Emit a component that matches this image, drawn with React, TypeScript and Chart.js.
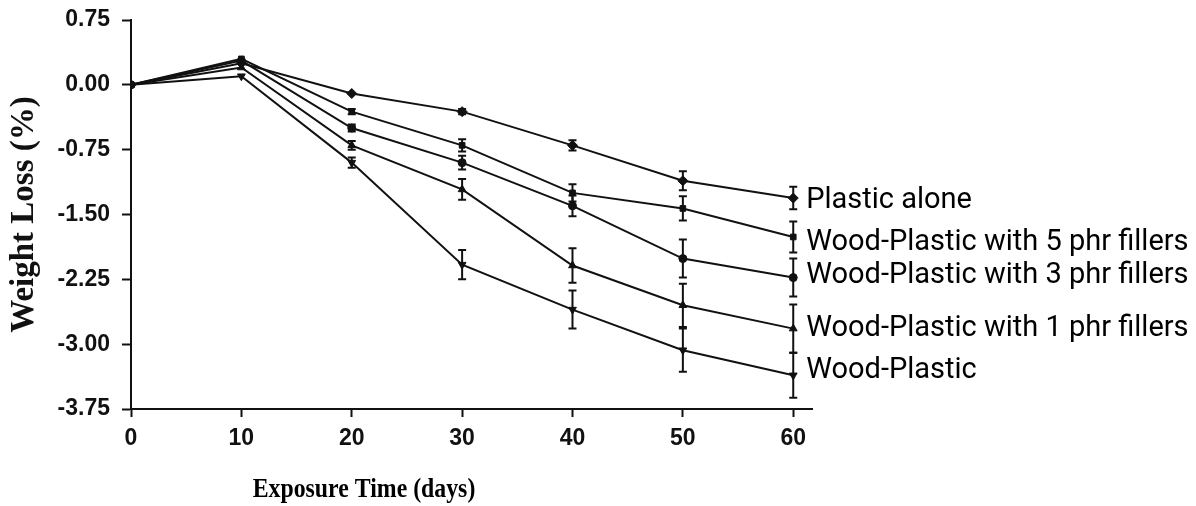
import React, { useEffect, useRef } from "react";
import { Chart, registerables } from "chart.js";

Chart.register(...registerables);

const days = [0, 10, 20, 30, 40, 50, 60];
const seriesNames = [
  "Plastic alone",
  "Wood-Plastic with 5 phr fillers",
  "Wood-Plastic with 3 phr fillers",
  "Wood-Plastic with 1 phr fillers",
  "Wood-Plastic",
];
const plasticAlone = [0, 0.25, -0.1, -0.31, -0.7, -1.11, -1.31];
const wp5 = [0, 0.3, -0.31, -0.7, -1.25, -1.43, -1.76];
const wp3 = [0, 0.28, -0.5, -0.9, -1.4, -2.01, -2.23];
const wp1 = [0, 0.2, -0.7, -1.21, -2.09, -2.55, -2.82];
const wp = [0, 0.1, -0.9, -2.08, -2.6, -3.07, -3.36];

const errPlastic = [0, 0.02, 0.02, 0.03, 0.06, 0.11, 0.13];
const errWp5 = [0, 0.02, 0.03, 0.07, 0.1, 0.14, 0.18];
const errWp3 = [0, 0.02, 0.04, 0.08, 0.12, 0.22, 0.22];
const errWp1 = [0, 0.02, 0.05, 0.12, 0.2, 0.25, 0.28];
const errWp = [0, 0.02, 0.06, 0.17, 0.22, 0.25, 0.26];

const yTicks = [0.75, 0, -0.75, -1.5, -2.25, -3.0, -3.75];
const xTicks = [0, 10, 20, 30, 40, 50, 60];

const values = [plasticAlone, wp5, wp3, wp1, wp];
const errors = [errPlastic, errWp5, errWp3, errWp1, errWp];
const pointStyles = ["rectRot", "rect", "circle", "triangle", "triangle"];
const pointRotations = [0, 0, 0, 0, 180];
const pointRadii = [5, 4, 4, 4.5, 4.5];
const labelNudge = [3, 6, -2, 0, -5];

const errorBarPlugin = {
  id: "errorBars",
  afterDatasetsDraw(chart: any) {
    const ctx = chart.ctx;
    const xs = chart.scales.x;
    const ys = chart.scales.y;
    ctx.save();
    ctx.strokeStyle = "#111";
    ctx.lineWidth = 2;
    errors.forEach((errs, si) => {
      errs.forEach((e, i) => {
        if (!e || e < 0.025) return;
        const x = xs.getPixelForValue(days[i]);
        const yTop = ys.getPixelForValue(values[si][i] + e);
        const yBot = ys.getPixelForValue(values[si][i] - e);
        ctx.beginPath();
        ctx.moveTo(x, yTop);
        ctx.lineTo(x, yBot);
        ctx.moveTo(x - 4, yTop);
        ctx.lineTo(x + 4, yTop);
        ctx.moveTo(x - 4, yBot);
        ctx.lineTo(x + 4, yBot);
        ctx.stroke();
      });
    });
    ctx.restore();
  },
};

const labelsPlugin = {
  id: "endLabels",
  afterDraw(chart: any) {
    const ctx = chart.ctx;
    const xs = chart.scales.x;
    const ys = chart.scales.y;
    ctx.save();
    ctx.fillStyle = "#000";
    ctx.font = "29px Roboto";
    ctx.textAlign = "left";
    ctx.textBaseline = "middle";
    seriesNames.forEach((name, si) => {
      const last = values[si].length - 1;
      const x = xs.getPixelForValue(days[last]) + 13;
      const y = ys.getPixelForValue(values[si][last]) + labelNudge[si];
      ctx.fillText(name, x, y);
    });
    // x-axis title (slightly condensed bold serif)
    ctx.font = "bold 28px 'Liberation Serif'";
    ctx.textAlign = "center";
    ctx.textBaseline = "alphabetic";
    ctx.translate(356, 489);
    ctx.scale(0.85, 1);
    ctx.fillText("Exposure Time (days)", 0, 0);
    ctx.restore();
  },
};

export default function App() {
  const canvasRef = useRef<HTMLCanvasElement | null>(null);

  useEffect(() => {
    if (!canvasRef.current) return;
    const chart = new Chart(canvasRef.current, {
      type: "line",
      data: {
        datasets: seriesNames.map((name, si) => ({
          label: name,
          data: days.map((d, i) => ({ x: d, y: values[si][i] })),
          borderColor: "#111",
          backgroundColor: "#111",
          borderWidth: 2,
          pointStyle: pointStyles[si] as any,
          pointRotation: pointRotations[si],
          pointRadius: pointRadii[si],
          pointBorderWidth: 1,
          tension: 0,
        })),
      },
      options: {
        animation: false,
        responsive: true,
        maintainAspectRatio: false,
        layout: { padding: { left: 0, right: 376, top: 12, bottom: 0 } },
        plugins: {
          legend: { display: false },
          tooltip: { enabled: false },
        },
        scales: {
          x: {
            type: "linear",
            min: 0,
            max: 61.7,
            afterBuildTicks: (scale: any) => {
              scale.ticks = xTicks.map((v) => ({ value: v }));
            },
            afterFit: (scale: any) => {
              scale.height = 97;
            },
            grid: {
              display: true,
              drawOnChartArea: false,
              drawTicks: true,
              tickLength: 8,
              tickWidth: 2,
              tickColor: "#111",
            },
            border: { display: true, color: "#111", width: 2 },
            ticks: {
              color: "#111",
              font: { family: "'Liberation Sans'", weight: "bold", size: 23 },
              padding: 8,
              maxRotation: 0,
            },
          },
          y: {
            type: "linear",
            min: -3.75,
            max: 0.75,
            afterBuildTicks: (scale: any) => {
              scale.ticks = yTicks.map((v) => ({ value: v }));
            },
            afterFit: (scale: any) => {
              scale.width = 123;
              scale.paddingTop = 0;
              scale.paddingBottom = 0;
            },
            grid: {
              display: true,
              drawOnChartArea: false,
              drawTicks: true,
              tickLength: 9,
              tickWidth: 2,
              tickColor: "#111",
            },
            border: { display: true, color: "#111", width: 2 },
            ticks: {
              color: "#111",
              font: { family: "'Liberation Sans'", weight: "bold", size: 23 },
              padding: 12,
              callback: (v: any) => Number(v).toFixed(2),
            },
            title: {
              display: true,
              text: "Weight Loss (%)",
              color: "#111",
              font: { family: "'Liberation Serif'", weight: "bold", size: 33, lineHeight: 1 },
              padding: 0,
            },
          },
        },
      },
      plugins: [errorBarPlugin, labelsPlugin],
    });
    return () => chart.destroy();
  }, []);

  return (
    <div style={{ width: 1180, height: 498, position: "relative" }}>
      <canvas ref={canvasRef} />
    </div>
  );
}
